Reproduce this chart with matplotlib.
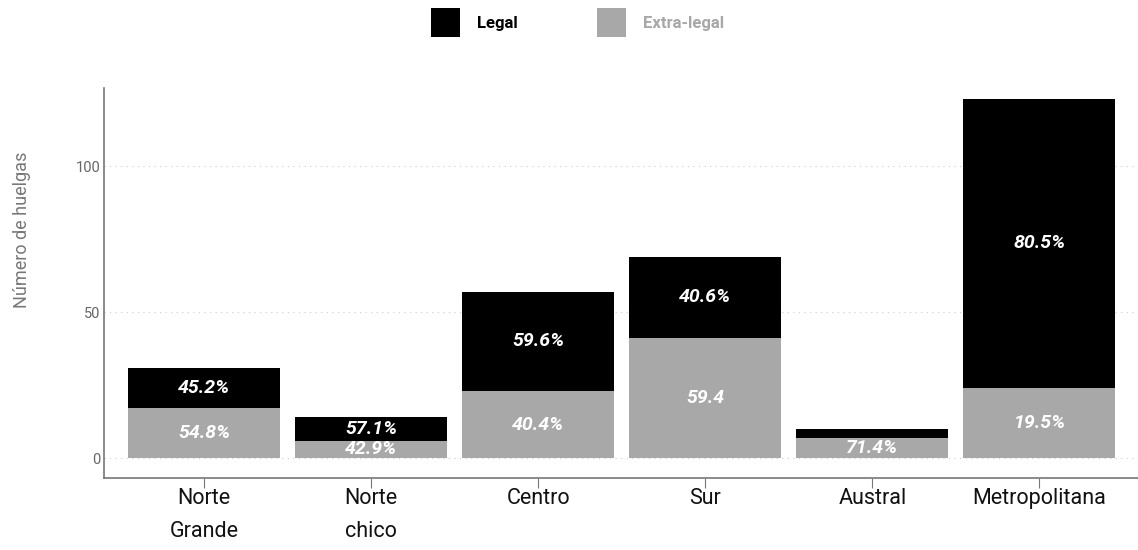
import matplotlib
matplotlib.use('Agg')
import matplotlib.pyplot as plt
import numpy as np

regiones = ["Norte\nGrande", "Norte\nchico", "Centro", "Sur", "Austral", "Metropolitana"]
extra_legal = [17, 6, 23, 41, 7, 24]
legal = [14, 8, 34, 28, 3, 99]
etiq_legal = ["45.2%", "57.1%", "59.6%", "40.6%", "", "80.5%"]
etiq_extra = ["54.8%", "42.9%", "40.4%", "59.4", "71.4%", "19.5%"]

gris = '#a8a8a8'
plt.rcParams['font.family'] = ['Roboto', 'DejaVu Sans']

fig = plt.figure(figsize=(11.38, 5.5), dpi=100)
ax = fig.add_axes([104/1138, 1-478/550, 1-104/1138, 390/550])

x = np.arange(len(regiones))
b1 = ax.bar(x, extra_legal, width=0.91, color=gris, label="Extra-legal", zorder=2)
b2 = ax.bar(x, legal, bottom=extra_legal, width=0.91, color='black', label="Legal", zorder=2)

lbl = dict(label_type='center', color='white', fontsize=14, fontweight='bold', fontstyle='italic')
ax.bar_label(b1, labels=etiq_extra, **lbl)
ax.bar_label(b2, labels=etiq_legal, **lbl)

ax.set_xlim(-0.6, 5.59)
ax.set_ylim(-6.8, 126.7)
ax.set_yticks([0, 50, 100])
ax.set_xticks(x)
ax.set_xticklabels(regiones, fontsize=15.5, color='#111111', linespacing=1.7)
ax.tick_params(axis='x', length=7, color='#777777', pad=0.5)
ax.tick_params(axis='y', length=0, labelsize=10.5, labelcolor='#666666', pad=2.5)
ax.grid(axis='y', linestyle=(0, (1, 4)), color='#cccccc', linewidth=0.8, zorder=0)
for s in ['top', 'right']:
    ax.spines[s].set_visible(False)
for s in ['left', 'bottom']:
    ax.spines[s].set_color('#777777')
    ax.spines[s].set_linewidth(1.2)
ax.set_ylabel("Número de huelgas", fontsize=13, color='#777777')
ax.yaxis.set_label_coords(-0.071, 0.636)

leg = fig.legend(handles=[b2, b1], labels=["Legal", "Extra-legal"], loc='upper center',
                 bbox_to_anchor=(0.5075, 1.0), ncol=2, frameon=False,
                 handlelength=1.74, handleheight=2.3, columnspacing=4.8, handletextpad=1.0,
                 borderaxespad=0.1, prop={'weight': 'bold', 'size': 12})
leg.get_texts()[0].set_color('black')
leg.get_texts()[1].set_color(gris)

plt.savefig("out.png", dpi=100)
